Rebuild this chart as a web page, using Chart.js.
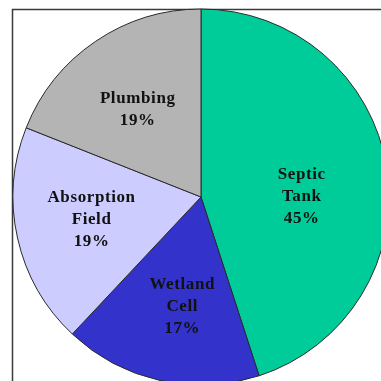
<!DOCTYPE html>
<html>
<head>
<meta charset="utf-8">
<script src="https://cdn.jsdelivr.net/npm/chart.js@4/dist/chart.umd.min.js"></script>
<style>
  html, body { margin: 0; padding: 0; background: #fff; overflow: hidden; width: 381px; height: 381px; }
  canvas { display: block; }
</style>
</head>
<body>
<canvas id="c" width="400" height="400"></canvas>
<script>
// ---- data ----
const categories = [["Septic", "Tank"], ["Wetland", "Cell"], ["Absorption", "Field"], ["Plumbing"]];
const shares = [45, 17, 19, 19];

// ---- styles ----
const sliceColors = ["#00CC99", "#3333CC", "#CCCCFF", "#B4B4B4"];
const labelShift = [[-7, 17], [5, 3], [-3, -1], [-2, 3]];

const framePlugin = {
  id: 'frame',
  beforeDraw(chart) {
    const ctx = chart.ctx;
    ctx.save();
    ctx.strokeStyle = '#3a3a3a';
    ctx.lineWidth = 1.5;
    ctx.beginPath();
    ctx.moveTo(12.5, 400);
    ctx.lineTo(12.5, 9.5);
    ctx.lineTo(400, 9.5);
    ctx.stroke();
    ctx.restore();
  }
};

const labelPlugin = {
  id: 'sliceLabels',
  afterDatasetsDraw(chart) {
    const ctx = chart.ctx;
    const meta = chart.getDatasetMeta(0);
    const total = shares.reduce((a, b) => a + b, 0);
    ctx.save();
    ctx.font = 'bold 17px "Liberation Serif", "Times New Roman", serif';
    ctx.fillStyle = '#111111';
    ctx.textAlign = 'center';
    ctx.textBaseline = 'middle';
    try { ctx.letterSpacing = '0.6px'; } catch (e) {}
    meta.data.forEach((arc, i) => {
      const p = arc.getProps(['x', 'y', 'startAngle', 'endAngle', 'outerRadius'], true);
      const mid = (p.startAngle + p.endAngle) / 2;
      const r = p.outerRadius * 0.58;
      const cx = p.x + Math.cos(mid) * r + labelShift[i][0];
      const cy = p.y + Math.sin(mid) * r + labelShift[i][1];
      const lines = categories[i].concat([Math.round(shares[i] / total * 100) + '%']);
      const lh = 22;
      lines.forEach((t, k) => {
        ctx.fillText(t, cx, cy + (k - (lines.length - 1) / 2) * lh);
      });
    });
    ctx.restore();
  }
};

new Chart(document.getElementById('c'), {
  type: 'pie',
  data: {
    labels: categories.map(c => c.join(' ')),
    datasets: [{
      data: shares,
      backgroundColor: sliceColors,
      borderColor: '#2a2a2a',
      borderWidth: 1
    }]
  },
  options: {
    responsive: false,
    animation: false,
    radius: 188,
    layout: { padding: { left: 13, top: 9, right: 11, bottom: 15 } },
    plugins: {
      legend: { display: false },
      tooltip: { enabled: false }
    }
  },
  plugins: [framePlugin, labelPlugin]
});
</script>
</body>
</html>
